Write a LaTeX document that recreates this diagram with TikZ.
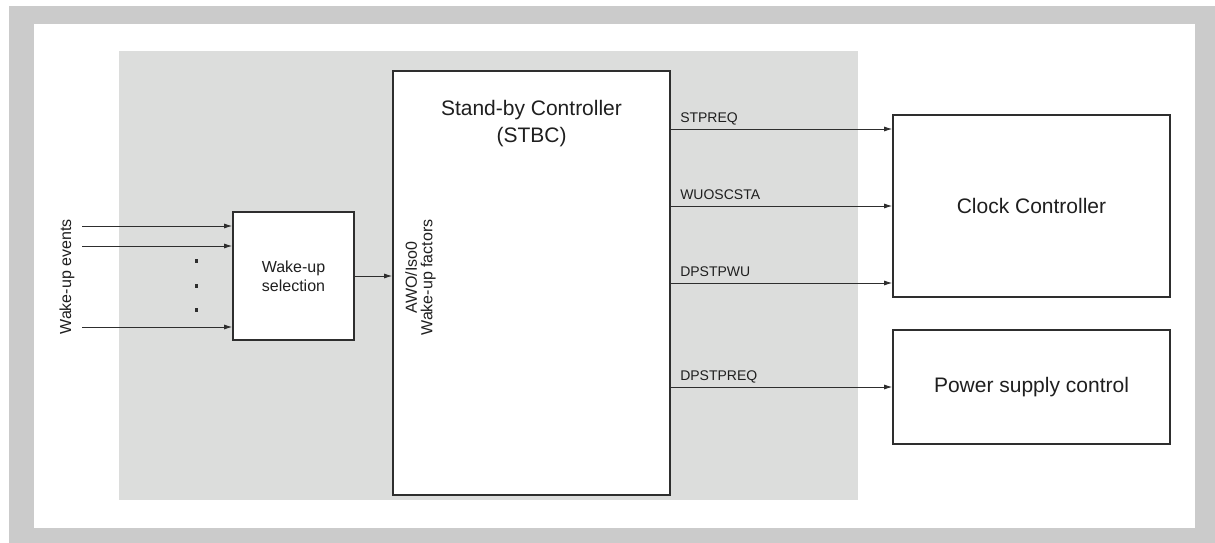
\documentclass[tikz,border=0pt]{standalone}
\usepackage{fontspec}
\setmainfont{Liberation Sans}
\usetikzlibrary{arrows.meta, positioning, calc}
\definecolor{framegray}{HTML}{CBCBCB}
\definecolor{areagray}{HTML}{DCDDDC}
\definecolor{edgegray}{HTML}{2E2E2E}

\begin{document}
\begin{tikzpicture}[x=1pt,y=-1pt,
    block/.style={draw=edgegray, line width=1.6pt, fill=white, inner sep=0pt, text=black!88},
    sig/.style={draw=edgegray, line width=0.9pt, -{Latex[length=8pt,width=5pt]}},
    siglabel/.style={font=\fontsize{14}{16}\selectfont, anchor=base west, inner sep=0pt, text=black!88}]
    \useasboundingbox (0,0) rectangle (1215,543);
    \fill[framegray] (9,6) rectangle (1215,543);
    \fill[white] (34,24) rectangle (1195,528);
    \fill[areagray] (119,51) rectangle (858,500);

    \node[block, minimum width=121pt, minimum height=128pt, align=center,
          font=\fontsize{16}{19}\selectfont] (sel) at (293.5,276) {Wake-up\\selection};
    \node[block, minimum width=277pt, minimum height=424pt] (stbc) at (531.5,283) {};
    \node[block, minimum width=277pt, minimum height=182pt,
          font=\fontsize{21}{25}\selectfont] (clk) at (1031.5,206) {Clock Controller};
    \node[block, minimum width=277pt, minimum height=114pt,
          font=\fontsize{21}{25}\selectfont] (pwr) at (1031.5,387) {Power supply control};

    \node[align=center, font=\fontsize{21}{27}\selectfont, inner sep=0pt, text=black!88] (title)
        at (531.5,123.5) {Stand-by Controller\\(STBC)};
    \node[rotate=90, align=center, font=\fontsize{16}{15.5}\selectfont, inner sep=0pt, text=black!88]
        (factors) at (420.5,277.5) {AWO/Iso0\\Wake-up factors};
    \node[rotate=90, font=\fontsize{16}{19}\selectfont, inner sep=0pt, text=black!88] (events)
        at (67,277) {Wake-up events};

    % inputs
    \foreach \i/\y in {1/226,2/246,3/327} {
        \coordinate (in\i) at (82,\y);
        \draw[sig] (in\i) -- (sel.west |- in\i);
    }
    \foreach \y in {261,286,310} \fill[edgegray] (194.5,\y-1.6) rectangle (197.7,\y+1.6);
    \draw[sig] (sel.east) -- (sel.east -| stbc.west);

    % outputs
    \coordinate (o1) at ([yshift=77pt]clk.west);
    \coordinate (o2) at (clk.west);
    \coordinate (o3) at ([yshift=-77pt]clk.west);
    \foreach \c/\name in {o1/STPREQ,o2/WUOSCSTA,o3/DPSTPWU} {
        \draw[sig] (stbc.east |- \c) -- (\c)
            node[siglabel, pos=0, xshift=9pt, yshift=7pt] {\name};
    }
    \draw[sig] (stbc.east |- pwr.west) -- (pwr.west)
        node[siglabel, pos=0, xshift=9pt, yshift=7pt] {DPSTPREQ};
\end{tikzpicture}
\end{document}
